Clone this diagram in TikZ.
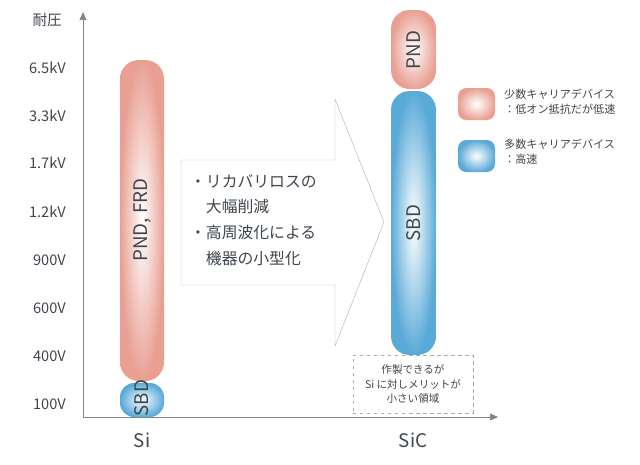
\documentclass[tikz,border=0pt]{standalone}
\usepackage{fontspec}
\setmainfont{Noto Sans CJK JP}
\usetikzlibrary{positioning, arrows.meta}
\definecolor{minority}{HTML}{E9A093}
\definecolor{majority}{HTML}{5AAAD8}
\definecolor{axisgray}{HTML}{7E8790}
\definecolor{textgray}{HTML}{3F464D}
\tikzset{
  barlabel/.style={rotate=90, font=\fontsize{16}{16}\selectfont, text=textgray},
  tick/.style={font=\fontsize{12.5}{12.5}\selectfont, text=textgray, anchor=east},
  legend/.style={font=\fontsize{9.5}{12.5}\selectfont, text=textgray, align=left, anchor=north west}
}
\begin{document}
\begin{tikzpicture}[x=0.03cm, y=-0.03cm]
    \useasboundingbox (0,0) rectangle (640,464);
    % Axes
    \coordinate (origin) at (83,417);
    \draw[axisgray, thick, -{Triangle[length=7pt, width=6pt]}] (origin) -- (83,12);
    \draw[axisgray, thick, -{Triangle[length=7pt, width=6pt]}] (origin) -- (498,417);
    \node[tick] (ylab) at (66,20) {耐圧};
    \foreach \v/\y in {6.5kV/68, 3.3kV/116, 1.7kV/163, 1.2kV/212, 900V/260, 600V/308, 400V/356, 100V/404}
        \node[tick] at (70,\y) {\v};
    \node[font=\fontsize{16}{16}\selectfont, text=textgray] (si) at (142,440) {Si};
    \node[font=\fontsize{16}{16}\selectfont, text=textgray] (sic) at (413,440) {SiC};

    % Si bars
    \shade[inner color=white, outer color=minority, rounded corners=16pt] (120,60) rectangle (164,381);
    \node[barlabel] (sipnd) at (142,220) {PND, FRD};
    \shade[inner color=white, outer color=majority, rounded corners=12pt] (120,383) rectangle (164,417);
    \node[barlabel] (sisbd) at (142,398) {SBD};

    % SiC bars
    \shade[inner color=white, outer color=minority, rounded corners=16pt] (391,10) rectangle (436,89);
    \node[barlabel] (sicpnd) at (413.5,50) {PND};
    \shade[inner color=white, outer color=majority, rounded corners=16pt] (391,91) rectangle (436,355);
    \node[barlabel] (sicsbd) at (413.5,223) {SBD};

    % Big arrow
    \draw[axisgray!60, fill=white] (181,160) -- (335,160) -- (335,99) -- (384,222)
        -- (335,346) -- (335,285) -- (181,285) -- cycle;
    \node[font=\fontsize{13.5}{22}\selectfont, text=textgray, align=left, anchor=north west] (gain) at (186,170)
        {・リカバリロスの\\\hspace{1em}大幅削減\\・高周波化による\\\hspace{1em}機器の小型化};

    % Note box
    \node[draw=axisgray!70, dashed, minimum width=121*0.85pt, minimum height=58*0.85pt,
        font=\fontsize{9}{12}\selectfont, text=textgray, align=center] (note) at (413,384)
        {作製できるが\\Si に対しメリットが\\小さい領域};

    % Legend
    \shade[inner color=white, outer color=minority, rounded corners=7pt] (458,88) rectangle (495,120);
    \node[legend] (legmin) at (500,85) {少数キャリアデバイス\\：低オン抵抗だが低速};
    \shade[inner color=white, outer color=majority, rounded corners=7pt] (458,140) rectangle (495,172);
    \node[legend] (legmaj) at (500,135) {多数キャリアデバイス\\：高速};
\end{tikzpicture}
\end{document}
